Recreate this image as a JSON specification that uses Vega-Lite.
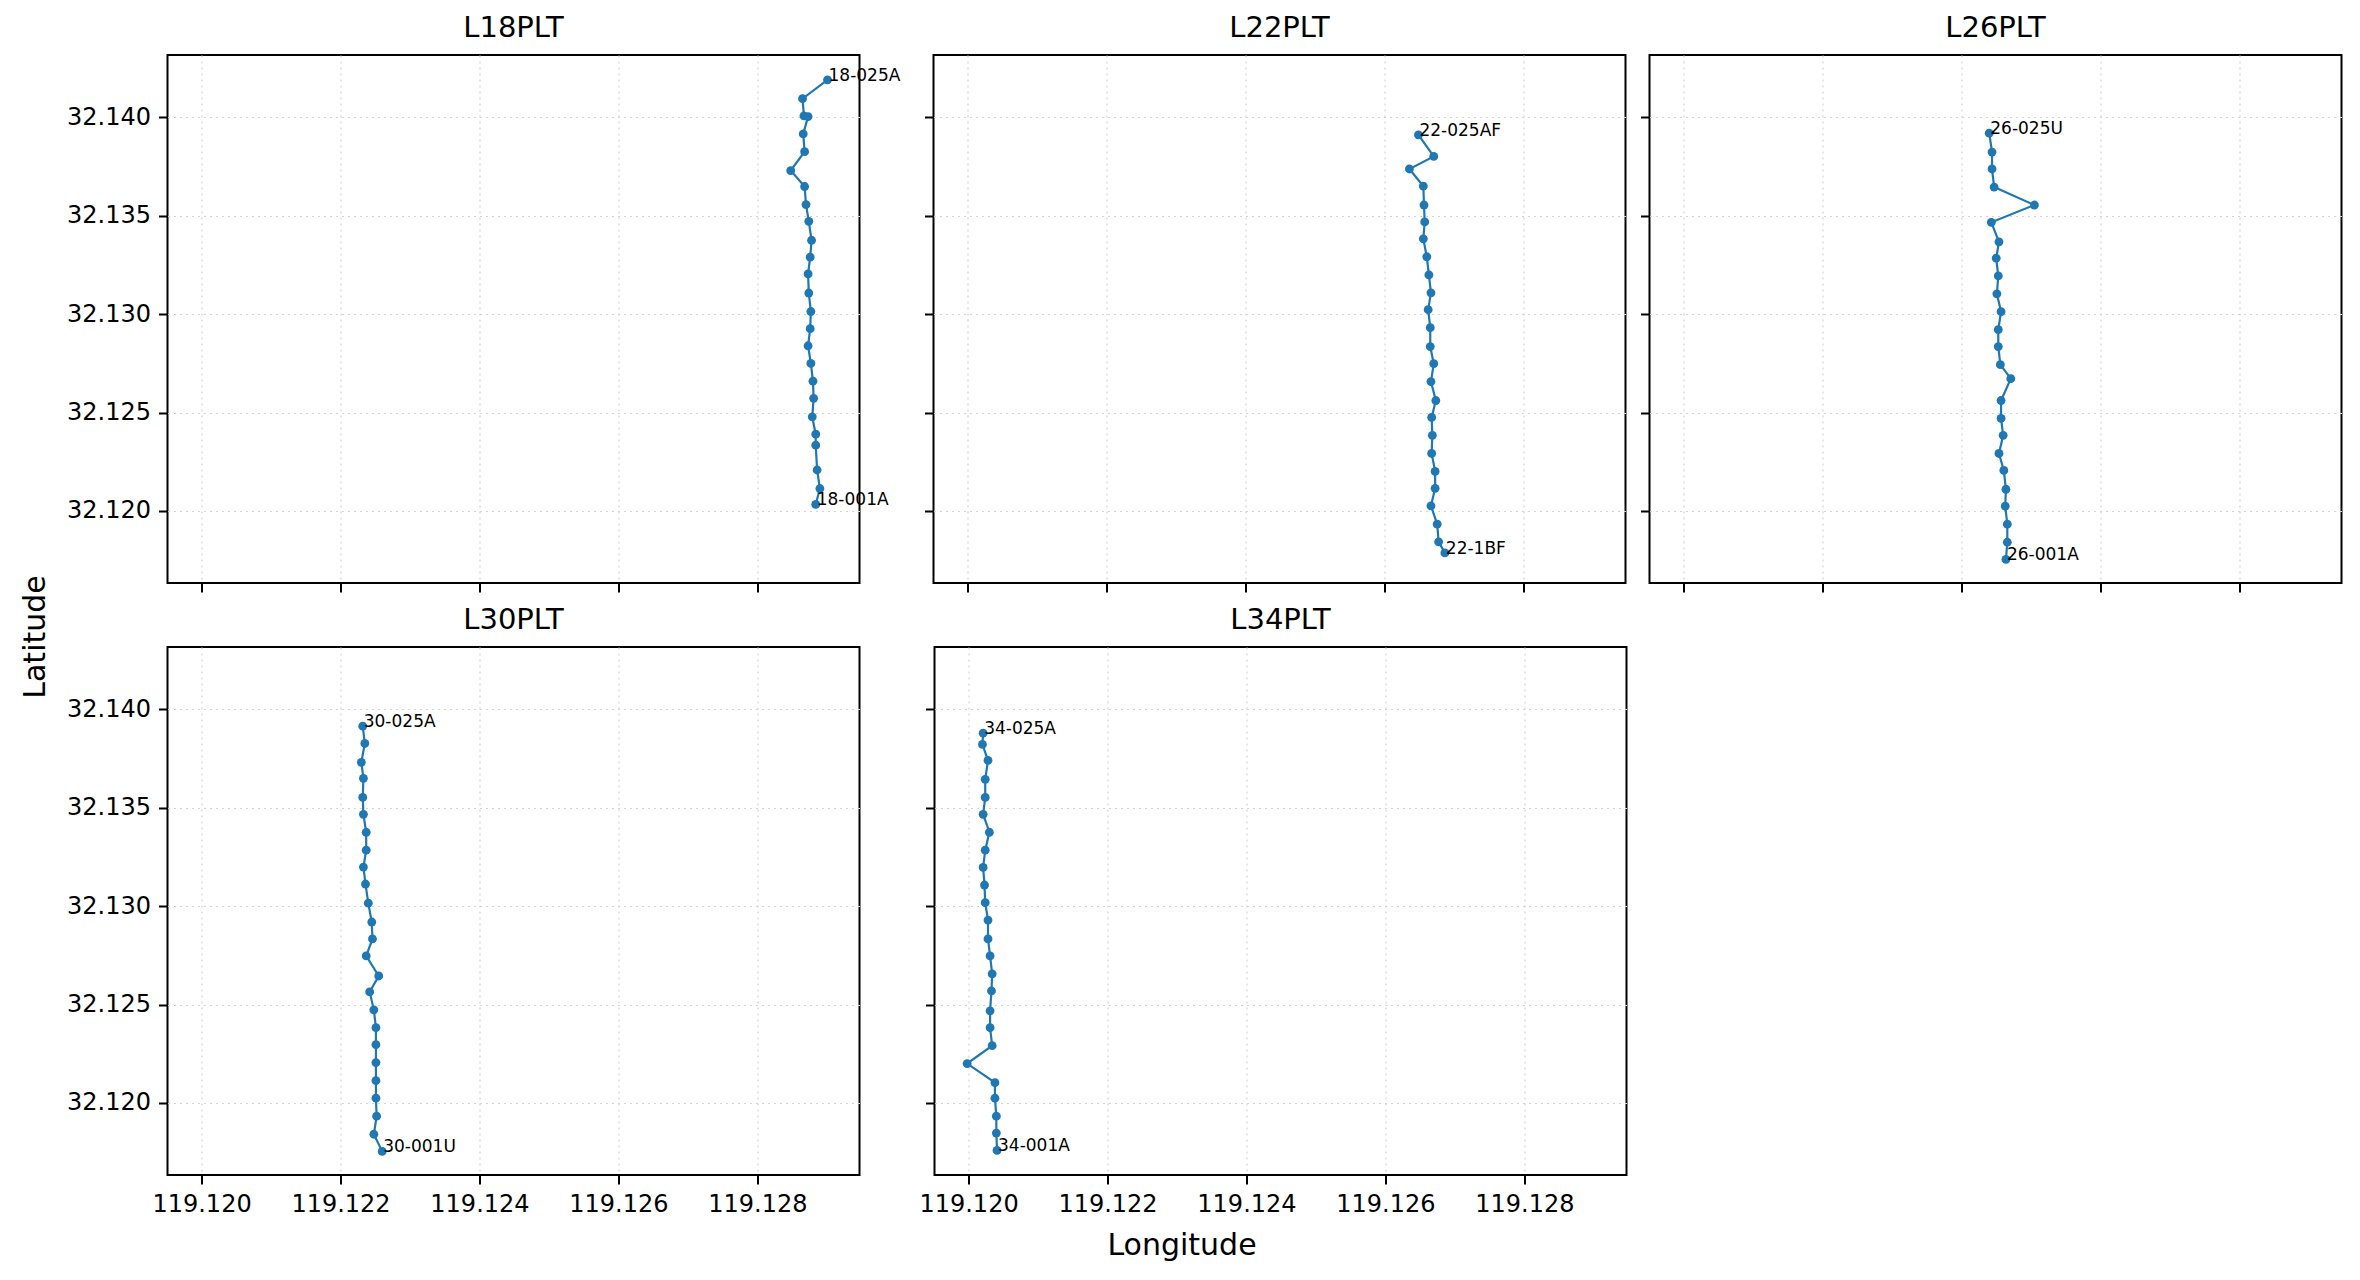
{
  "$schema": "https://vega.github.io/schema/vega-lite/v6.json",
  "background": "white",
  "padding": {"left": 20.5, "top": 13, "right": 5, "bottom": 5},
  "data": {
    "values": [
      {"line": "L18PLT", "seq": 1, "lon": 119.12901, "lat": 32.14190, "label": "18-025A"},
      {"line": "L18PLT", "seq": 2, "lon": 119.12865, "lat": 32.14094, "label": ""},
      {"line": "L18PLT", "seq": 3, "lon": 119.12867, "lat": 32.14007, "label": ""},
      {"line": "L18PLT", "seq": 4, "lon": 119.12873, "lat": 32.14003, "label": ""},
      {"line": "L18PLT", "seq": 5, "lon": 119.12866, "lat": 32.13915, "label": ""},
      {"line": "L18PLT", "seq": 6, "lon": 119.12868, "lat": 32.13825, "label": ""},
      {"line": "L18PLT", "seq": 7, "lon": 119.12848, "lat": 32.13729, "label": ""},
      {"line": "L18PLT", "seq": 8, "lon": 119.12868, "lat": 32.13648, "label": ""},
      {"line": "L18PLT", "seq": 9, "lon": 119.12870, "lat": 32.13556, "label": ""},
      {"line": "L18PLT", "seq": 10, "lon": 119.12874, "lat": 32.13471, "label": ""},
      {"line": "L18PLT", "seq": 11, "lon": 119.12878, "lat": 32.13375, "label": ""},
      {"line": "L18PLT", "seq": 12, "lon": 119.12876, "lat": 32.13289, "label": ""},
      {"line": "L18PLT", "seq": 13, "lon": 119.12873, "lat": 32.13204, "label": ""},
      {"line": "L18PLT", "seq": 14, "lon": 119.12874, "lat": 32.13107, "label": ""},
      {"line": "L18PLT", "seq": 15, "lon": 119.12877, "lat": 32.13013, "label": ""},
      {"line": "L18PLT", "seq": 16, "lon": 119.12876, "lat": 32.12926, "label": ""},
      {"line": "L18PLT", "seq": 17, "lon": 119.12873, "lat": 32.12839, "label": ""},
      {"line": "L18PLT", "seq": 18, "lon": 119.12877, "lat": 32.12749, "label": ""},
      {"line": "L18PLT", "seq": 19, "lon": 119.12880, "lat": 32.12659, "label": ""},
      {"line": "L18PLT", "seq": 20, "lon": 119.12881, "lat": 32.12572, "label": ""},
      {"line": "L18PLT", "seq": 21, "lon": 119.12879, "lat": 32.12478, "label": ""},
      {"line": "L18PLT", "seq": 22, "lon": 119.12884, "lat": 32.12390, "label": ""},
      {"line": "L18PLT", "seq": 23, "lon": 119.12884, "lat": 32.12334, "label": ""},
      {"line": "L18PLT", "seq": 24, "lon": 119.12886, "lat": 32.12208, "label": ""},
      {"line": "L18PLT", "seq": 25, "lon": 119.12890, "lat": 32.12114, "label": ""},
      {"line": "L18PLT", "seq": 26, "lon": 119.12884, "lat": 32.12033, "label": "18-001A"},

      {"line": "L22PLT", "seq": 1, "lon": 119.12649, "lat": 32.13910, "label": "22-025AF"},
      {"line": "L22PLT", "seq": 2, "lon": 119.12671, "lat": 32.13801, "label": ""},
      {"line": "L22PLT", "seq": 3, "lon": 119.12636, "lat": 32.13737, "label": ""},
      {"line": "L22PLT", "seq": 4, "lon": 119.12656, "lat": 32.13650, "label": ""},
      {"line": "L22PLT", "seq": 5, "lon": 119.12657, "lat": 32.13554, "label": ""},
      {"line": "L22PLT", "seq": 6, "lon": 119.12658, "lat": 32.13468, "label": ""},
      {"line": "L22PLT", "seq": 7, "lon": 119.12656, "lat": 32.13382, "label": ""},
      {"line": "L22PLT", "seq": 8, "lon": 119.12661, "lat": 32.13291, "label": ""},
      {"line": "L22PLT", "seq": 9, "lon": 119.12664, "lat": 32.13199, "label": ""},
      {"line": "L22PLT", "seq": 10, "lon": 119.12667, "lat": 32.13108, "label": ""},
      {"line": "L22PLT", "seq": 11, "lon": 119.12663, "lat": 32.13022, "label": ""},
      {"line": "L22PLT", "seq": 12, "lon": 119.12666, "lat": 32.12931, "label": ""},
      {"line": "L22PLT", "seq": 13, "lon": 119.12666, "lat": 32.12835, "label": ""},
      {"line": "L22PLT", "seq": 14, "lon": 119.12671, "lat": 32.12748, "label": ""},
      {"line": "L22PLT", "seq": 15, "lon": 119.12667, "lat": 32.12657, "label": ""},
      {"line": "L22PLT", "seq": 16, "lon": 119.12674, "lat": 32.12561, "label": ""},
      {"line": "L22PLT", "seq": 17, "lon": 119.12668, "lat": 32.12475, "label": ""},
      {"line": "L22PLT", "seq": 18, "lon": 119.12669, "lat": 32.12384, "label": ""},
      {"line": "L22PLT", "seq": 19, "lon": 119.12668, "lat": 32.12292, "label": ""},
      {"line": "L22PLT", "seq": 20, "lon": 119.12673, "lat": 32.12201, "label": ""},
      {"line": "L22PLT", "seq": 21, "lon": 119.12673, "lat": 32.12115, "label": ""},
      {"line": "L22PLT", "seq": 22, "lon": 119.12667, "lat": 32.12026, "label": ""},
      {"line": "L22PLT", "seq": 23, "lon": 119.12676, "lat": 32.11933, "label": ""},
      {"line": "L22PLT", "seq": 24, "lon": 119.12678, "lat": 32.11843, "label": ""},
      {"line": "L22PLT", "seq": 25, "lon": 119.12687, "lat": 32.11787, "label": "22-1BF"},

      {"line": "L26PLT", "seq": 1, "lon": 119.12440, "lat": 32.13919, "label": "26-025U"},
      {"line": "L26PLT", "seq": 2, "lon": 119.12444, "lat": 32.13823, "label": ""},
      {"line": "L26PLT", "seq": 3, "lon": 119.12444, "lat": 32.13737, "label": ""},
      {"line": "L26PLT", "seq": 4, "lon": 119.12447, "lat": 32.13645, "label": ""},
      {"line": "L26PLT", "seq": 5, "lon": 119.12505, "lat": 32.13554, "label": ""},
      {"line": "L26PLT", "seq": 6, "lon": 119.12443, "lat": 32.13466, "label": ""},
      {"line": "L26PLT", "seq": 7, "lon": 119.12454, "lat": 32.13367, "label": ""},
      {"line": "L26PLT", "seq": 8, "lon": 119.12450, "lat": 32.13284, "label": ""},
      {"line": "L26PLT", "seq": 9, "lon": 119.12453, "lat": 32.13194, "label": ""},
      {"line": "L26PLT", "seq": 10, "lon": 119.12451, "lat": 32.13103, "label": ""},
      {"line": "L26PLT", "seq": 11, "lon": 119.12457, "lat": 32.13012, "label": ""},
      {"line": "L26PLT", "seq": 12, "lon": 119.12453, "lat": 32.12921, "label": ""},
      {"line": "L26PLT", "seq": 13, "lon": 119.12453, "lat": 32.12835, "label": ""},
      {"line": "L26PLT", "seq": 14, "lon": 119.12456, "lat": 32.12743, "label": ""},
      {"line": "L26PLT", "seq": 15, "lon": 119.12471, "lat": 32.12672, "label": ""},
      {"line": "L26PLT", "seq": 16, "lon": 119.12457, "lat": 32.12561, "label": ""},
      {"line": "L26PLT", "seq": 17, "lon": 119.12457, "lat": 32.12470, "label": ""},
      {"line": "L26PLT", "seq": 18, "lon": 119.12460, "lat": 32.12384, "label": ""},
      {"line": "L26PLT", "seq": 19, "lon": 119.12454, "lat": 32.12292, "label": ""},
      {"line": "L26PLT", "seq": 20, "lon": 119.12461, "lat": 32.12206, "label": ""},
      {"line": "L26PLT", "seq": 21, "lon": 119.12464, "lat": 32.12110, "label": ""},
      {"line": "L26PLT", "seq": 22, "lon": 119.12463, "lat": 32.12024, "label": ""},
      {"line": "L26PLT", "seq": 23, "lon": 119.12466, "lat": 32.11933, "label": ""},
      {"line": "L26PLT", "seq": 24, "lon": 119.12466, "lat": 32.11841, "label": ""},
      {"line": "L26PLT", "seq": 25, "lon": 119.12464, "lat": 32.11754, "label": "26-001A"},

      {"line": "L30PLT", "seq": 1, "lon": 119.12232, "lat": 32.13914, "label": "30-025A"},
      {"line": "L30PLT", "seq": 2, "lon": 119.12235, "lat": 32.13826, "label": ""},
      {"line": "L30PLT", "seq": 3, "lon": 119.12230, "lat": 32.13730, "label": ""},
      {"line": "L30PLT", "seq": 4, "lon": 119.12233, "lat": 32.13649, "label": ""},
      {"line": "L30PLT", "seq": 5, "lon": 119.12232, "lat": 32.13552, "label": ""},
      {"line": "L30PLT", "seq": 6, "lon": 119.12233, "lat": 32.13466, "label": ""},
      {"line": "L30PLT", "seq": 7, "lon": 119.12237, "lat": 32.13375, "label": ""},
      {"line": "L30PLT", "seq": 8, "lon": 119.12237, "lat": 32.13284, "label": ""},
      {"line": "L30PLT", "seq": 9, "lon": 119.12233, "lat": 32.13198, "label": ""},
      {"line": "L30PLT", "seq": 10, "lon": 119.12236, "lat": 32.13112, "label": ""},
      {"line": "L30PLT", "seq": 11, "lon": 119.12240, "lat": 32.13015, "label": ""},
      {"line": "L30PLT", "seq": 12, "lon": 119.12245, "lat": 32.12919, "label": ""},
      {"line": "L30PLT", "seq": 13, "lon": 119.12246, "lat": 32.12833, "label": ""},
      {"line": "L30PLT", "seq": 14, "lon": 119.12237, "lat": 32.12747, "label": ""},
      {"line": "L30PLT", "seq": 15, "lon": 119.12255, "lat": 32.12645, "label": ""},
      {"line": "L30PLT", "seq": 16, "lon": 119.12242, "lat": 32.12564, "label": ""},
      {"line": "L30PLT", "seq": 17, "lon": 119.12248, "lat": 32.12473, "label": ""},
      {"line": "L30PLT", "seq": 18, "lon": 119.12251, "lat": 32.12382, "label": ""},
      {"line": "L30PLT", "seq": 19, "lon": 119.12251, "lat": 32.12296, "label": ""},
      {"line": "L30PLT", "seq": 20, "lon": 119.12251, "lat": 32.12205, "label": ""},
      {"line": "L30PLT", "seq": 21, "lon": 119.12251, "lat": 32.12113, "label": ""},
      {"line": "L30PLT", "seq": 22, "lon": 119.12251, "lat": 32.12024, "label": ""},
      {"line": "L30PLT", "seq": 23, "lon": 119.12252, "lat": 32.11933, "label": ""},
      {"line": "L30PLT", "seq": 24, "lon": 119.12248, "lat": 32.11841, "label": ""},
      {"line": "L30PLT", "seq": 25, "lon": 119.12260, "lat": 32.11754, "label": "30-001U"},

      {"line": "L34PLT", "seq": 1, "lon": 119.12021, "lat": 32.13878, "label": "34-025A"},
      {"line": "L34PLT", "seq": 2, "lon": 119.12020, "lat": 32.13821, "label": ""},
      {"line": "L34PLT", "seq": 3, "lon": 119.12028, "lat": 32.13740, "label": ""},
      {"line": "L34PLT", "seq": 4, "lon": 119.12024, "lat": 32.13644, "label": ""},
      {"line": "L34PLT", "seq": 5, "lon": 119.12024, "lat": 32.13552, "label": ""},
      {"line": "L34PLT", "seq": 6, "lon": 119.12021, "lat": 32.13466, "label": ""},
      {"line": "L34PLT", "seq": 7, "lon": 119.12030, "lat": 32.13375, "label": ""},
      {"line": "L34PLT", "seq": 8, "lon": 119.12024, "lat": 32.13284, "label": ""},
      {"line": "L34PLT", "seq": 9, "lon": 119.12021, "lat": 32.13196, "label": ""},
      {"line": "L34PLT", "seq": 10, "lon": 119.12023, "lat": 32.13107, "label": ""},
      {"line": "L34PLT", "seq": 11, "lon": 119.12024, "lat": 32.13017, "label": ""},
      {"line": "L34PLT", "seq": 12, "lon": 119.12028, "lat": 32.12929, "label": ""},
      {"line": "L34PLT", "seq": 13, "lon": 119.12028, "lat": 32.12833, "label": ""},
      {"line": "L34PLT", "seq": 14, "lon": 119.12031, "lat": 32.12747, "label": ""},
      {"line": "L34PLT", "seq": 15, "lon": 119.12034, "lat": 32.12656, "label": ""},
      {"line": "L34PLT", "seq": 16, "lon": 119.12033, "lat": 32.12569, "label": ""},
      {"line": "L34PLT", "seq": 17, "lon": 119.12031, "lat": 32.12468, "label": ""},
      {"line": "L34PLT", "seq": 18, "lon": 119.12031, "lat": 32.12382, "label": ""},
      {"line": "L34PLT", "seq": 19, "lon": 119.12034, "lat": 32.12291, "label": ""},
      {"line": "L34PLT", "seq": 20, "lon": 119.11998, "lat": 32.12200, "label": ""},
      {"line": "L34PLT", "seq": 21, "lon": 119.12038, "lat": 32.12103, "label": ""},
      {"line": "L34PLT", "seq": 22, "lon": 119.12038, "lat": 32.12024, "label": ""},
      {"line": "L34PLT", "seq": 23, "lon": 119.12040, "lat": 32.11933, "label": ""},
      {"line": "L34PLT", "seq": 24, "lon": 119.12040, "lat": 32.11847, "label": ""},
      {"line": "L34PLT", "seq": 25, "lon": 119.12041, "lat": 32.11759, "label": "34-001A"}
    ]
  },
  "title": {"text": "Latitude", "orient": "left", "anchor": "middle", "fontSize": 30, "offset": 15},
  "vconcat": [
    {
      "title": {"text": "Longitude", "orient": "bottom", "anchor": "middle", "fontSize": 30, "offset": 14, "dx": -22},
      "spacing": 11,
      "vconcat": [
        {
          "spacing": 21,
          "hconcat": [
            {
              "title": "L18PLT",
              "width": 692, "height": 528,
              "transform": [{"filter": "datum.line === 'L18PLT'"}],
              "encoding": {
                "x": {"field": "lon", "type": "quantitative", "scale": {"domain": [119.11951, 119.12947], "nice": false, "zero": false},
                      "axis": {"values": [119.12, 119.122, 119.124, 119.126, 119.128], "format": ".3f", "labels": false}},
                "y": {"field": "lat", "type": "quantitative", "scale": {"domain": [32.11634, 32.14316], "nice": false, "zero": false},
                      "axis": {"values": [32.12, 32.125, 32.13, 32.135, 32.14], "format": ".3f"}}
              },
              "layer": [
                {"mark": {"type": "line", "color": "#1f77b4", "strokeWidth": 2.2}, "encoding": {"order": {"field": "seq"}}},
                {"mark": {"type": "point", "filled": true, "color": "#1f77b4", "size": 78, "opacity": 1}},
                {"transform": [{"filter": "datum.label !== ''"}],
                 "mark": {"type": "text", "align": "left", "baseline": "alphabetic", "dx": 1, "dy": 1, "fontSize": 17, "color": "black"},
                 "encoding": {"text": {"field": "label"}}}
              ]
            },
            {
              "spacing": 12,
              "hconcat": [
                {
                  "title": "L22PLT",
                  "width": 692, "height": 528,
                  "transform": [{"filter": "datum.line === 'L22PLT'"}],
                  "encoding": {
                    "x": {"field": "lon", "type": "quantitative", "scale": {"domain": [119.11951, 119.12947], "nice": false, "zero": false},
                          "axis": {"values": [119.12, 119.122, 119.124, 119.126, 119.128], "format": ".3f", "labels": false}},
                    "y": {"field": "lat", "type": "quantitative", "scale": {"domain": [32.11634, 32.14316], "nice": false, "zero": false},
                          "axis": {"values": [32.12, 32.125, 32.13, 32.135, 32.14], "format": ".3f", "labels": false}}
                  },
                  "layer": [
                    {"mark": {"type": "line", "color": "#1f77b4", "strokeWidth": 2.2}, "encoding": {"order": {"field": "seq"}}},
                    {"mark": {"type": "point", "filled": true, "color": "#1f77b4", "size": 78, "opacity": 1}},
                    {"transform": [{"filter": "datum.label !== ''"}],
                     "mark": {"type": "text", "align": "left", "baseline": "alphabetic", "dx": 1, "dy": 1, "fontSize": 17, "color": "black"},
                     "encoding": {"text": {"field": "label"}}}
                  ]
                },
                {
                  "title": "L26PLT",
                  "width": 692, "height": 528,
                  "transform": [{"filter": "datum.line === 'L26PLT'"}],
                  "encoding": {
                    "x": {"field": "lon", "type": "quantitative", "scale": {"domain": [119.11951, 119.12947], "nice": false, "zero": false},
                          "axis": {"values": [119.12, 119.122, 119.124, 119.126, 119.128], "format": ".3f", "labels": false}},
                    "y": {"field": "lat", "type": "quantitative", "scale": {"domain": [32.11634, 32.14316], "nice": false, "zero": false},
                          "axis": {"values": [32.12, 32.125, 32.13, 32.135, 32.14], "format": ".3f", "labels": false}}
                  },
                  "layer": [
                    {"mark": {"type": "line", "color": "#1f77b4", "strokeWidth": 2.2}, "encoding": {"order": {"field": "seq"}}},
                    {"mark": {"type": "point", "filled": true, "color": "#1f77b4", "size": 78, "opacity": 1}},
                    {"transform": [{"filter": "datum.label !== ''"}],
                     "mark": {"type": "text", "align": "left", "baseline": "alphabetic", "dx": 1, "dy": 1, "fontSize": 17, "color": "black"},
                     "encoding": {"text": {"field": "label"}}}
                  ]
                }
              ]
            }
          ]
        },
        {
          "spacing": 57,
          "hconcat": [
            {
              "title": "L30PLT",
              "width": 692, "height": 528,
              "transform": [{"filter": "datum.line === 'L30PLT'"}],
              "encoding": {
                "x": {"field": "lon", "type": "quantitative", "scale": {"domain": [119.11951, 119.12947], "nice": false, "zero": false},
                      "axis": {"values": [119.12, 119.122, 119.124, 119.126, 119.128], "format": ".3f"}},
                "y": {"field": "lat", "type": "quantitative", "scale": {"domain": [32.11634, 32.14316], "nice": false, "zero": false},
                      "axis": {"values": [32.12, 32.125, 32.13, 32.135, 32.14], "format": ".3f"}}
              },
              "layer": [
                {"mark": {"type": "line", "color": "#1f77b4", "strokeWidth": 2.2}, "encoding": {"order": {"field": "seq"}}},
                {"mark": {"type": "point", "filled": true, "color": "#1f77b4", "size": 78, "opacity": 1}},
                {"transform": [{"filter": "datum.label !== ''"}],
                 "mark": {"type": "text", "align": "left", "baseline": "alphabetic", "dx": 1, "dy": 1, "fontSize": 17, "color": "black"},
                 "encoding": {"text": {"field": "label"}}}
              ]
            },
            {
              "title": "L34PLT",
              "width": 692, "height": 528,
              "transform": [{"filter": "datum.line === 'L34PLT'"}],
              "encoding": {
                "x": {"field": "lon", "type": "quantitative", "scale": {"domain": [119.11951, 119.12947], "nice": false, "zero": false},
                      "axis": {"values": [119.12, 119.122, 119.124, 119.126, 119.128], "format": ".3f"}},
                "y": {"field": "lat", "type": "quantitative", "scale": {"domain": [32.11634, 32.14316], "nice": false, "zero": false},
                      "axis": {"values": [32.12, 32.125, 32.13, 32.135, 32.14], "format": ".3f", "labels": false}}
              },
              "layer": [
                {"mark": {"type": "line", "color": "#1f77b4", "strokeWidth": 2.2}, "encoding": {"order": {"field": "seq"}}},
                {"mark": {"type": "point", "filled": true, "color": "#1f77b4", "size": 78, "opacity": 1}},
                {"transform": [{"filter": "datum.label !== ''"}],
                 "mark": {"type": "text", "align": "left", "baseline": "alphabetic", "dx": 1, "dy": 1, "fontSize": 17, "color": "black"},
                 "encoding": {"text": {"field": "label"}}}
              ]
            }
          ]
        }
      ]
    }
  ],
  "config": {
    "font": "DejaVu Sans",
    "view": {"stroke": "black", "strokeWidth": 2},
    "axis": {
      "domain": false, "grid": true, "gridColor": "#d4d4d4", "gridDash": [2, 4], "gridWidth": 1.2,
      "ticks": true, "tickColor": "black", "tickSize": 9, "tickWidth": 2,
      "labelFontSize": 24, "labelColor": "black", "labelPadding": 8, "labelFlush": false, "labelOverlap": false,
      "title": null
    },
    "title": {"fontSize": 29, "fontWeight": "normal", "offset": 12, "color": "black", "anchor": "middle"}
  }
}
